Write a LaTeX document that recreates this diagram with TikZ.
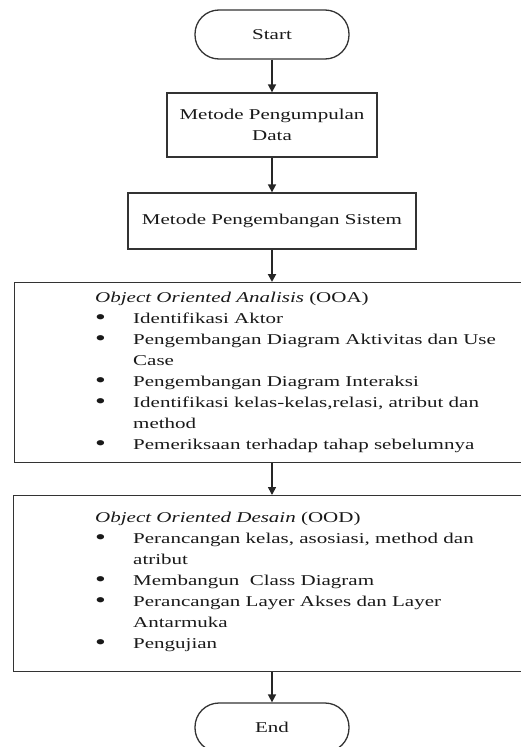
\documentclass[tikz,border=0pt]{standalone}
\usepackage{fontspec}
\setmainfont{Liberation Serif}[FakeStretch=1.4]
\usetikzlibrary{arrows.meta,positioning}
\newcommand{\blt}{\raisebox{-1.5pt}{\fontsize{22}{21}\selectfont\textbullet}}
\tikzset{
  txt/.style={font=\fontsize{15}{21}\selectfont,text=black!90},
  term/.style={draw=black!80,line width=1.3pt,rounded corners=24pt,minimum width=154pt,minimum height=49pt,inner sep=0pt},
  stepbox/.style={draw=black!80,line width=1.3pt,align=center,inner sep=0pt},
  bigbox/.style={draw=black!80,line width=1.4pt,anchor=north west,inner sep=0pt},
  listtext/.style={anchor=base west,inner sep=0pt},
  arr/.style={-{Triangle[length=8pt,width=8pt]},line width=1.6pt,black!85}
}
\begin{document}
\begin{tikzpicture}[x=1pt,y=-1pt,every node/.style={txt}]

\clip (0,0) rectangle (521,747);

\node[term] (start) at (272,34.5) {Start};
\node[stepbox,minimum width=210pt,minimum height=64pt] (data) at (272,125) {Metode Pengumpulan\\Data};
\node[stepbox,minimum width=288pt,minimum height=56pt] (sistem) at (272,221) {Metode Pengembangan Sistem};

\node[bigbox,minimum width=540pt,minimum height=180pt] (ooa) at (14,282) {};
\node[listtext] (ooalist) at (95,302) {\begin{tabular}[t]{@{}p{38pt}@{}l@{}}
\multicolumn{2}{@{}l@{}}{\textit{Object Oriented Analisis} (OOA)}\\
\blt & Identifikasi Aktor\\
\blt & Pengembangan Diagram Aktivitas dan Use\\
 & Case\\
\blt & Pengembangan Diagram Interaksi\\
\blt & Identifikasi kelas-kelas,relasi, atribut dan\\
 & method\\
\blt & Pemeriksaan terhadap tahap sebelumnya
\end{tabular}};

\node[bigbox,minimum width=540pt,minimum height=176pt] (ood) at (13,495) {};
\node[listtext] (oodlist) at (95,522) {\begin{tabular}[t]{@{}p{38pt}@{}l@{}}
\multicolumn{2}{@{}l@{}}{\textit{Object Oriented Desain} (OOD)}\\
\blt & Perancangan kelas, asosiasi, method dan\\
 & atribut\\
\blt & Membangun~ Class Diagram\\
\blt & Perancangan Layer Akses dan Layer\\
 & Antarmuka\\
\blt & Pengujian
\end{tabular}};

\node[term] (end) at (272,727.5) {End};

\draw[arr] (start) -- (data);
\draw[arr] (data) -- (sistem);
\draw[arr,line width=2.2pt] (sistem.south) -- (sistem.south |- ooa.north);
\draw[arr] (ooa.south -| sistem.south) -- (ood.north -| sistem.south);
\draw[arr] (ood.south -| end.north) -- (end);

\end{tikzpicture}
\end{document}
